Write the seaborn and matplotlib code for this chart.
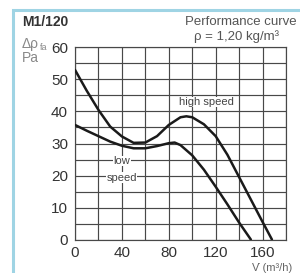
import numpy as np
import pandas as pd
import matplotlib
matplotlib.use("Agg")
import matplotlib.pyplot as plt
import matplotlib.patches as mpatches
import seaborn as sns

# ── Data ────────────────────────────────────────────────────
high_flow = [0, 10, 20, 30, 40, 50, 60, 70, 80, 90, 95, 100, 110, 120, 130, 140, 150, 160, 168]
high_dp   = [53, 46.5, 40.5, 35.3, 32.2, 30.2, 30.3, 32.3, 35.8, 38.2, 38.5, 38.2, 36, 32.3, 26.5, 19.5, 12.5, 5.5, 0]
low_flow  = [0, 10, 20, 30, 40, 50, 60, 70, 80, 85, 90, 100, 110, 120, 130, 140, 150]
low_dp    = [35.8, 34, 32.3, 30.6, 29.3, 28.5, 28.5, 29.2, 30.1, 30.3, 29.5, 26.3, 21.8, 16.5, 11, 5.3, 0]
x_ticks = [0, 40, 80, 120, 160]
y_ticks = [0, 10, 20, 30, 40, 50, 60]

df = pd.concat([
    pd.DataFrame({"flow": high_flow, "dp": high_dp, "speed": "high"}),
    pd.DataFrame({"flow": low_flow, "dp": low_dp, "speed": "low"}),
])

# ── Style ────────────────────────────────────────────────────
sns.set_style("white")
plt.rcParams["font.family"] = ["Liberation Sans", "DejaVu Sans"]
GRID = "#484848"
TXT = "#444444"

fig = plt.figure(figsize=(3.0, 2.73), dpi=100)

# light blue frame behind everything (left and top edges visible)
fig.add_artist(mpatches.Rectangle((13 / 300, -0.05), 1.0, 1 - 10 / 273 + 0.05,
                                  transform=fig.transFigure, facecolor="white",
                                  edgecolor="#9fd4e4", linewidth=2.2, zorder=0))

ax = fig.add_axes([0.25, 1 - 239.5 / 273, 0.7033, (239.5 - 47.5) / 273])

sns.lineplot(data=df, x="flow", y="dp", hue="speed", palette=["#1a1a1a", "#1a1a1a"],
             sort=False, legend=False, linewidth=1.8, ax=ax, zorder=3)

ax.set_xlim(0, 180)
ax.set_ylim(0, 60)
ax.set_xticks(np.arange(0, 181, 20), minor=True)
ax.set_yticks(np.arange(0, 61, 5), minor=True)
ax.set_xticks(x_ticks)
ax.set_yticks(y_ticks)
ax.grid(which="both", color=GRID, linewidth=0.85)
ax.set_axisbelow(True)
for s in ax.spines.values():
    s.set_color(GRID)
    s.set_linewidth(0.85)
ax.tick_params(which="major", length=3, width=0.8, color=GRID, labelsize=11,
               labelcolor="#333333", pad=2)
ax.tick_params(which="minor", length=0)
ax.set_xlabel("")
ax.set_ylabel("")

# curve labels
box = dict(facecolor="white", edgecolor="none", pad=0.2)
ax.text(112, 43, "high speed", fontsize=8, color=TXT,
        ha="center", va="center", bbox=box, zorder=4)
ax.text(40, 24.5, "low", fontsize=8, color=TXT,
        ha="center", va="center", bbox=box, zorder=4)
ax.text(40, 19.3, "speed", fontsize=8, color=TXT,
        ha="center", va="center", bbox=box, zorder=4)

# header texts
fig.text(22 / 300, 1 - 22 / 273, "M1/120", fontsize=10, fontweight="bold", color="#333333",
         ha="left", va="center")
fig.text(22 / 300, 1 - 44 / 273, "Δρ", fontsize=10, color="#888888", ha="left", va="center")
fig.text(40 / 300, 1 - 48 / 273, "fa", fontsize=6.5, color="#888888", ha="left", va="center")
fig.text(22 / 300, 1 - 58 / 273, "Pa", fontsize=10, color="#888888", ha="left", va="center")
fig.text(297 / 300, 1 - 22 / 273, "Performance curve", fontsize=9.5, color="#555555",
         ha="right", va="center")
fig.text(237 / 300, 1 - 37 / 273, "ρ = 1,20 kg/m³", fontsize=9.5, color="#555555",
         ha="center", va="center")
fig.text(272 / 300, 1 - 268 / 273, "V\u0307 (m³/h)", fontsize=8, color="#666666",
         ha="center", va="center")

fig.savefig("out.png", dpi=100)
